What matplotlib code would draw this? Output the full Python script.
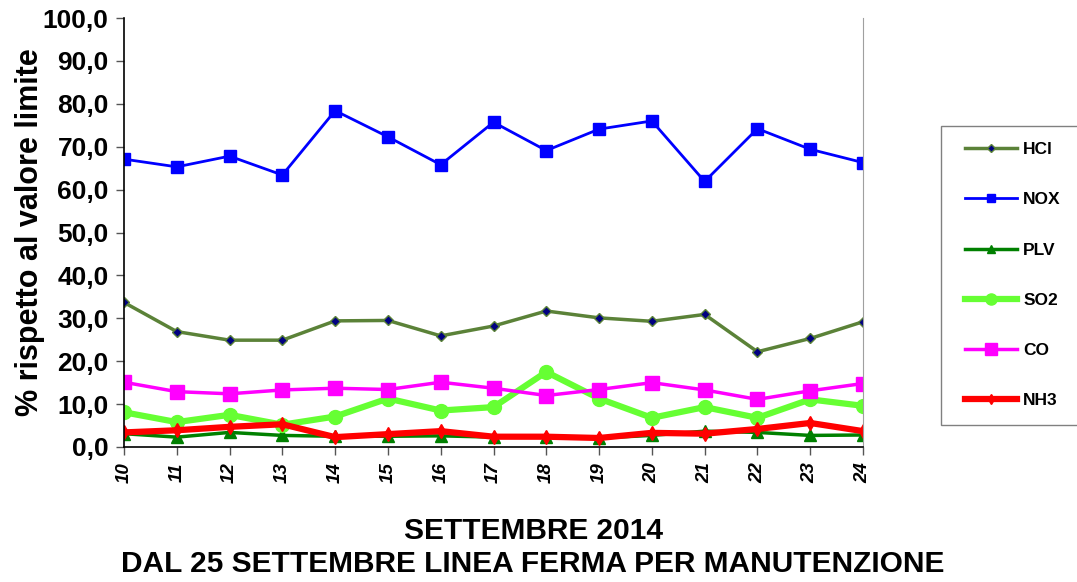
import matplotlib
matplotlib.use("Agg")
import matplotlib.pyplot as plt
from matplotlib.patches import Rectangle
from matplotlib.ticker import FuncFormatter

plt.rcParams["font.family"] = ["Liberation Sans", "DejaVu Sans"]

# ── data ─────────────────────────────────────────────────────────────────────
days = list(range(10, 25))
hcl = [33.7, 26.9, 24.9, 24.9, 29.4, 29.5, 25.9, 28.2, 31.7, 30.1, 29.3, 30.9, 22.2, 25.3, 29.2]
nox = [67.1, 65.3, 67.8, 63.4, 78.4, 72.3, 65.8, 75.7, 69.1, 74.1, 76.0, 61.9, 74.2, 69.4, 66.3]
plv = [3.1, 2.3, 3.4, 2.7, 2.5, 2.5, 2.6, 2.3, 2.3, 2.1, 2.7, 3.7, 3.4, 2.7, 2.8]
so2 = [8.1, 5.8, 7.5, 5.2, 7.1, 11.3, 8.5, 9.3, 17.5, 11.3, 6.8, 9.3, 6.8, 11.1, 9.6]
co = [15.1, 12.9, 12.4, 13.3, 13.7, 13.4, 15.1, 13.7, 12.0, 13.4, 15.0, 13.3, 11.1, 13.1, 14.8]
nh3 = [3.4, 3.9, 4.7, 5.3, 2.3, 3.0, 3.7, 2.4, 2.4, 2.1, 3.3, 3.1, 4.2, 5.6, 3.7]

W, H = 1077, 582
fig = plt.figure(figsize=(W / 100, H / 100), dpi=100)
ax = fig.add_axes([124 / W, 1 - 447 / H, 739 / W, 429 / H])

# ── series ───────────────────────────────────────────────────────────────────
ax.plot(days, hcl, color="#5b8238", lw=2.5, marker="D", ms=5,
        mfc="#000080", mec="#5b8238", mew=1, label="HCl")
ax.plot(days, nox, color="#0000ff", lw=2, marker="s", ms=8, label="NOX")
ax.plot(days, plv, color="#008000", lw=2.5, marker="^", ms=8, label="PLV")
ax.plot(days, so2, color="#66ff33", lw=4.5, marker="o", ms=10, label="SO2")
ax.plot(days, co, color="#ff00ff", lw=2.5, marker="s", ms=10, label="CO")
ax.plot(days, nh3, color="#ff0000", lw=4.5, marker="d", ms=7, label="NH3")

# ── axes styling ─────────────────────────────────────────────────────────────
ax.set_xlim(10, 24)
ax.set_ylim(0, 100)
ax.set_xticks(days)
ax.set_yticks(range(0, 101, 10))
ax.yaxis.set_major_formatter(FuncFormatter(lambda v, p: f"{v:.1f}".replace(".", ",")))
for lab in ax.get_yticklabels():
    lab.set_fontsize(19)
    lab.set_fontweight("bold")
for lab in ax.get_xticklabels():
    lab.set_fontsize(13.5)
    lab.set_fontweight("bold")
    lab.set_fontstyle("italic")
    lab.set_rotation(90)
ax.tick_params(axis="both", direction="out", length=6, width=1, color="#555555")
ax.tick_params(axis="y", pad=5)
ax.tick_params(axis="x", pad=5)
ax.spines["top"].set_visible(False)
ax.spines["right"].set_color("#a0a0a0")
ax.spines["left"].set_linewidth(1.2)
ax.spines["bottom"].set_linewidth(1.2)

# ── labels ───────────────────────────────────────────────────────────────────
fig.text(30 / W, 1 - 232 / H, "% rispetto al valore limite", rotation=90,
         ha="center", va="center", fontsize=22, fontweight="bold")
fig.text(533 / W, 1 - 531 / H, "SETTEMBRE 2014", ha="center", va="center",
         fontsize=21.5, fontweight="bold")
fig.text(533 / W, 1 - 564 / H, "DAL 25 SETTEMBRE LINEA FERMA PER MANUTENZIONE",
         ha="center", va="center", fontsize=21.5, fontweight="bold")

# ── legend (frame drawn separately so it can run off the right edge) ────────
fig.patches.append(Rectangle((941 / W, 1 - 425 / H), 150 / W, 299 / H,
                             transform=fig.transFigure, facecolor="white",
                             edgecolor="#808080", lw=1, zorder=0))
leg = fig.legend(loc="upper left", bbox_to_anchor=(965 / W, 1 - 142 / H),
                 borderaxespad=0, borderpad=0, frameon=False, handlelength=3.0,
                 labelspacing=2.02, handletextpad=0.35,
                 prop={"weight": "bold", "size": 12.5}, markerscale=0.8)

fig.savefig("out.png", dpi=100)
